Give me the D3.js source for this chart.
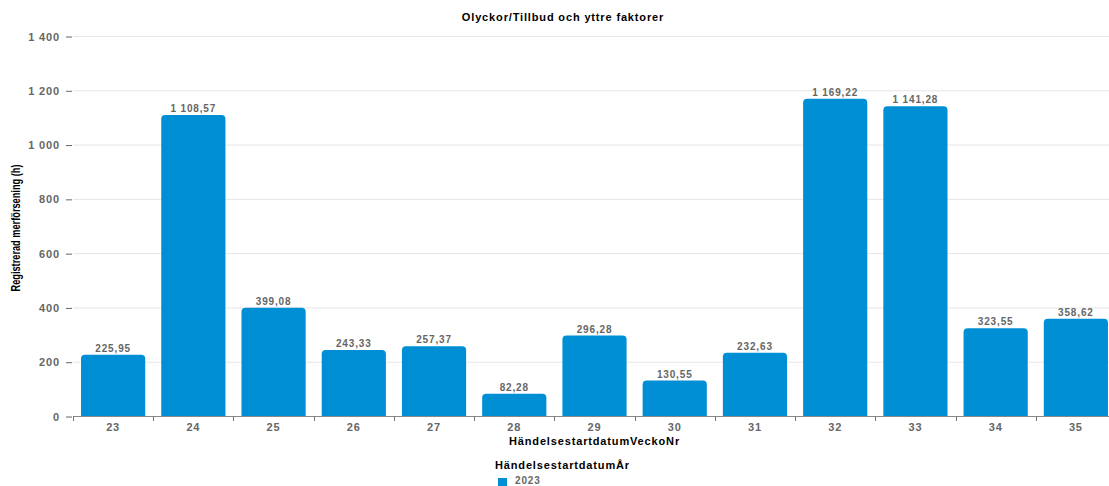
<!DOCTYPE html>
<html><head><meta charset="utf-8">
<script src="https://cdn.jsdelivr.net/npm/d3@7"></script>
<style>
body{margin:0;background:#fff;}
svg{display:block;font-family:"Liberation Sans",Arial,sans-serif;}
</style></head>
<body>
<svg id="c" width="1109" height="486"></svg>
<script>
const categories = ["23","24","25","26","27","28","29","30","31","32","33","34","35"];
const values = [225.95,1108.57,399.08,243.33,257.37,82.28,296.28,130.55,232.63,1169.22,1141.28,323.55,358.62];
const yTicks = [0,200,400,600,800,1000,1200,1400];
const seriesName = "2023";
const title = "Olyckor/Tillbud och yttre faktorer";
const xTitle = "HändelsestartdatumVeckoNr";
const yTitle = "Registrerad merförsening (h)";
const legendTitle = "HändelsestartdatumÅr";

(function(){
const svg = d3.select("#c");
const pL = 73, pR = 1116, pT = 36, pB = 416;
const LS = "0.85px";
const loc = d3.formatLocale({decimal:",", thousands:"\u00a0", grouping:[3], currency:["",""]});
const fmtTick = loc.format(",.0f");
const fmtVal = loc.format(",.2f");

const x = d3.scaleBand().domain(categories).range([pL, pR]).paddingInner(0.2).paddingOuter(0.1);
const y = d3.scaleLinear().domain([0,1400]).range([pB, pT]);

// gridlines
svg.append("g").selectAll("line").data(yTicks.filter(d=>d>0)).join("line")
  .attr("x1", pL).attr("x2", 1109).attr("y1", d=>y(d)+0.5).attr("y2", d=>y(d)+0.5)
  .attr("stroke", "#e6e6e6").attr("stroke-width",1);

// y axis
const ya = svg.append("g").attr("transform",`translate(${pL-1},0.5)`)
  .call(d3.axisLeft(y).tickValues(yTicks).tickFormat(fmtTick).tickSize(6).tickPadding(6));
ya.select(".domain").remove();
ya.selectAll("line").attr("stroke","#666");
ya.selectAll("text").attr("fill","#666").style("font-size","11px").style("font-weight","bold")
  .style("letter-spacing",LS).style("font-family","'Liberation Sans',Arial,sans-serif");

// bars
const r = 4;
svg.append("g").selectAll("path").data(values).join("path")
  .attr("fill","#008fd5")
  .attr("d",(d,i)=>{
    const x0 = x(categories[i]), w = x.bandwidth(), y0 = y(d), y1 = y(0);
    return `M${x0},${y1}V${y0+r}Q${x0},${y0} ${x0+r},${y0}H${x0+w-r}Q${x0+w},${y0} ${x0+w},${y0+r}V${y1}Z`;
  });

// value labels
svg.append("g").selectAll("text").data(values).join("text")
  .attr("x",(d,i)=>x(categories[i])+x.bandwidth()/2)
  .attr("y",d=>y(d)-3)
  .attr("text-anchor","middle").attr("fill","#666")
  .style("font-size","10px").style("font-weight","bold").style("letter-spacing",LS)
  .text(d=>fmtVal(d));

// x axis
svg.append("line").attr("x1",pL).attr("x2",1109).attr("y1",pB+0.5).attr("y2",pB+0.5)
  .attr("stroke","#888").attr("stroke-width",1);
const bounds = categories.map(c=>x(c)-x.step()*x.paddingInner()/2);
svg.append("g").selectAll("line").data(bounds).join("line")
  .attr("x1",d=>Math.round(d)+0.5).attr("x2",d=>Math.round(d)+0.5)
  .attr("y1",pB).attr("y2",pB+5).attr("stroke","#777");
svg.append("g").selectAll("text").data(categories).join("text")
  .attr("x",c=>x(c)+x.bandwidth()/2).attr("y",pB+15)
  .attr("text-anchor","middle").attr("fill","#666")
  .style("font-size","11px").style("font-weight","bold").style("letter-spacing",LS).text(c=>c);

// titles
svg.append("text").attr("x",563).attr("y",21).attr("text-anchor","middle")
  .style("font-size","11px").style("font-weight","bold").style("letter-spacing",LS).attr("fill","#000").text(title);
svg.append("text").attr("x",(pL+pR)/2).attr("y",pB+29).attr("text-anchor","middle")
  .style("font-size","11px").style("font-weight","bold").style("letter-spacing",LS).attr("fill","#000").text(xTitle);
svg.append("text").attr("transform",`translate(20,${(pT+pB)/2+2}) rotate(-90)`).attr("text-anchor","middle")
  .attr("textLength",127).attr("lengthAdjust","spacingAndGlyphs")
  .style("font-size","13px").style("font-weight","bold").attr("fill","#000").text(yTitle);

// legend
svg.append("text").attr("x",495).attr("y",469)
  .style("font-size","11px").style("font-weight","bold").style("letter-spacing",LS).attr("fill","#000").text(legendTitle);
svg.append("rect").attr("x",498).attr("y",478).attr("width",9).attr("height",8).attr("fill","#008fd5");
svg.append("text").attr("x",515).attr("y",484)
  .style("font-size","10px").style("font-weight","bold").style("letter-spacing",LS).attr("fill","#666").text(seriesName);
})();
</script>
</body></html>
